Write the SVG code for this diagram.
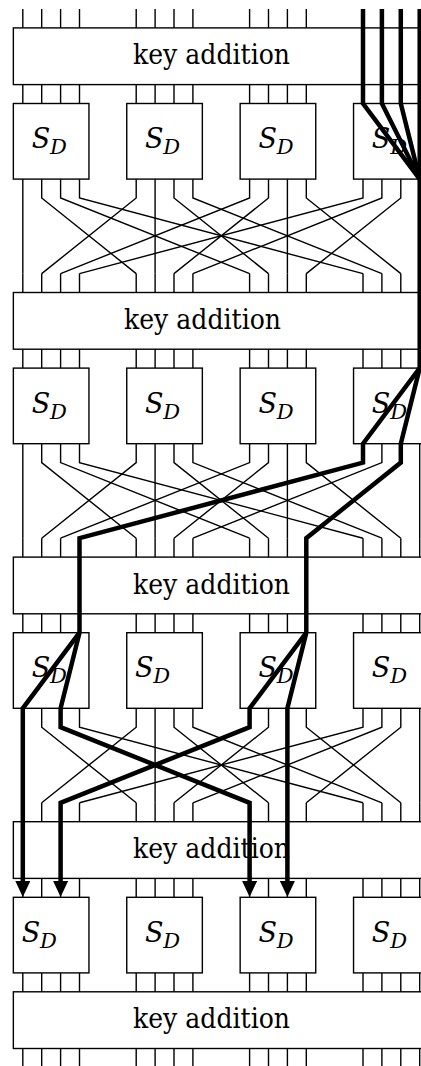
<svg xmlns="http://www.w3.org/2000/svg" xmlns:xlink="http://www.w3.org/1999/xlink" width="421" height="1066" viewBox="0 0 421 1066">
  <style>
    .w { stroke: #000; stroke-width: 1.4; fill: none; }
    .box { fill: #fff; stroke: #000; stroke-width: 1.4; }
    .ka { font-family: "DejaVu Serif", "Liberation Serif", serif; font-size: 27px; fill: #000; }
    .s { font-family: "DejaVu Serif", "Liberation Serif", serif; font-style: italic; font-size: 27px; fill: #000; }
    .d { font-size: 21px; }
    .thick { stroke: #000; stroke-width: 4.5; fill: none; stroke-linejoin: miter; }
  </style>
  <defs>
    <!-- straight wire segments of one bit column (stubs, through key additions and S-boxes) -->
    <path id="col" d="M0 9V179.1M0 273.6V443.7M0 538.2V708.3M0 802.8V1067.4"/>
    <!-- bit permutation between S-box layers: bit 4g+j goes to position 4j+g -->
    <g id="perm">
      <path d="M22.8 0V18.9L22.8 94.5"/>
      <path d="M41.7 0V18.9L136.2 94.5"/>
      <path d="M60.6 0V18.9L249.6 94.5"/>
      <path d="M79.5 0V18.9L363.0 94.5"/>
      <path d="M136.2 0V18.9L41.7 94.5"/>
      <path d="M155.1 0V18.9L155.1 94.5"/>
      <path d="M174.0 0V18.9L268.5 94.5"/>
      <path d="M192.9 0V18.9L381.9 94.5"/>
      <path d="M249.6 0V18.9L60.6 94.5"/>
      <path d="M268.5 0V18.9L174.0 94.5"/>
      <path d="M287.4 0V18.9L287.4 94.5"/>
      <path d="M306.3 0V18.9L400.8 94.5"/>
      <path d="M363.0 0V18.9L79.5 94.5"/>
      <path d="M381.9 0V18.9L192.9 94.5"/>
      <path d="M400.8 0V18.9L306.3 94.5"/>
      <path d="M419.7 0V18.9L419.7 94.5"/>
    </g>
    <marker id="arrow" markerUnits="userSpaceOnUse" viewBox="0 0 16 15" markerWidth="16" markerHeight="15" refX="0.5" refY="7.5" orient="auto">
      <path d="M0 0L16 7.5L0 15z" fill="#000"/>
    </marker>
  </defs>

  <!-- thin wires -->
  <g id="connectors" class="w">
    <use xlink:href="#col" x="22.8"/>
    <use xlink:href="#col" x="41.7"/>
    <use xlink:href="#col" x="60.6"/>
    <use xlink:href="#col" x="79.5"/>
    <use xlink:href="#col" x="136.2"/>
    <use xlink:href="#col" x="155.1"/>
    <use xlink:href="#col" x="174.0"/>
    <use xlink:href="#col" x="192.9"/>
    <use xlink:href="#col" x="249.6"/>
    <use xlink:href="#col" x="268.5"/>
    <use xlink:href="#col" x="287.4"/>
    <use xlink:href="#col" x="306.3"/>
    <use xlink:href="#col" x="363.0"/>
    <use xlink:href="#col" x="381.9"/>
    <use xlink:href="#col" x="400.8"/>
    <use xlink:href="#col" x="419.7"/>
    <use xlink:href="#perm" y="179.1"/>
    <use xlink:href="#perm" y="443.7"/>
    <use xlink:href="#perm" y="708.3"/>
  </g>

  <!-- key addition layers -->
  <g id="ka1"><rect class="box" x="13.35" y="27.9" width="416.1" height="56.7"/><text class="ka" x="133" y="64.3" textLength="157" lengthAdjust="spacingAndGlyphs">key addition</text></g>
  <g id="ka2"><rect class="box" x="13.35" y="292.5" width="416.1" height="56.7"/><text class="ka" x="124" y="328.9" textLength="157" lengthAdjust="spacingAndGlyphs">key addition</text></g>
  <g id="ka3"><rect class="box" x="13.35" y="557.1" width="416.1" height="56.7"/><text class="ka" x="133" y="593.5" textLength="157" lengthAdjust="spacingAndGlyphs">key addition</text></g>
  <g id="ka4"><rect class="box" x="13.35" y="821.7" width="416.1" height="56.7"/><text class="ka" x="133" y="858.1" textLength="157" lengthAdjust="spacingAndGlyphs">key addition</text></g>
  <g id="ka5"><rect class="box" x="13.35" y="991.8" width="416.1" height="56.7"/><text class="ka" x="133" y="1028.2" textLength="157" lengthAdjust="spacingAndGlyphs">key addition</text></g>

  <!-- S-box layer 1 -->
  <g id="sb1-1"><rect class="box" x="13.35" y="103.5" width="75.6" height="75.6"/><text class="s" x="31.65" y="148">S<tspan class="d" x="49.95" y="154">D</tspan></text></g>
  <g id="sb1-2"><rect class="box" x="126.75" y="103.5" width="75.6" height="75.6"/><text class="s" x="145.05" y="148">S<tspan class="d" x="163.35" y="154">D</tspan></text></g>
  <g id="sb1-3"><rect class="box" x="240.15" y="103.5" width="75.6" height="75.6"/><text class="s" x="258.45" y="148">S<tspan class="d" x="276.75" y="154">D</tspan></text></g>
  <g id="sb1-4"><rect class="box" x="353.55" y="103.5" width="75.6" height="75.6"/><text class="s" x="371.85" y="148">S<tspan class="d" x="390.15" y="154">D</tspan></text></g>

  <!-- S-box layer 2 -->
  <g id="sb2-1"><rect class="box" x="13.35" y="368.1" width="75.6" height="75.6"/><text class="s" x="31.65" y="412.6">S<tspan class="d" x="49.95" y="418.6">D</tspan></text></g>
  <g id="sb2-2"><rect class="box" x="126.75" y="368.1" width="75.6" height="75.6"/><text class="s" x="145.05" y="412.6">S<tspan class="d" x="163.35" y="418.6">D</tspan></text></g>
  <g id="sb2-3"><rect class="box" x="240.15" y="368.1" width="75.6" height="75.6"/><text class="s" x="258.45" y="412.6">S<tspan class="d" x="276.75" y="418.6">D</tspan></text></g>
  <g id="sb2-4"><rect class="box" x="353.55" y="368.1" width="75.6" height="75.6"/><text class="s" x="371.85" y="412.6">S<tspan class="d" x="390.15" y="418.6">D</tspan></text></g>

  <!-- S-box layer 3 -->
  <g id="sb3-1"><rect class="box" x="13.35" y="632.7" width="75.6" height="75.6"/><text class="s" x="31.65" y="677.2">S<tspan class="d" x="49.95" y="683.2">D</tspan></text></g>
  <g id="sb3-2"><rect class="box" x="126.75" y="632.7" width="75.6" height="75.6"/><text class="s" x="135.05" y="677.2">S<tspan class="d" x="153.35" y="683.2">D</tspan></text></g>
  <g id="sb3-3"><rect class="box" x="240.15" y="632.7" width="75.6" height="75.6"/><text class="s" x="258.45" y="677.2">S<tspan class="d" x="276.75" y="683.2">D</tspan></text></g>
  <g id="sb3-4"><rect class="box" x="353.55" y="632.7" width="75.6" height="75.6"/><text class="s" x="371.85" y="677.2">S<tspan class="d" x="390.15" y="683.2">D</tspan></text></g>

  <!-- S-box layer 4 -->
  <g id="sb4-1"><rect class="box" x="13.35" y="897.3" width="75.6" height="75.6"/><text class="s" x="21.65" y="941.8">S<tspan class="d" x="39.95" y="947.8">D</tspan></text></g>
  <g id="sb4-2"><rect class="box" x="126.75" y="897.3" width="75.6" height="75.6"/><text class="s" x="145.05" y="941.8">S<tspan class="d" x="163.35" y="947.8">D</tspan></text></g>
  <g id="sb4-3"><rect class="box" x="240.15" y="897.3" width="75.6" height="75.6"/><text class="s" x="258.45" y="941.8">S<tspan class="d" x="276.75" y="947.8">D</tspan></text></g>
  <g id="sb4-4"><rect class="box" x="353.55" y="897.3" width="75.6" height="75.6"/><text class="s" x="371.85" y="941.8">S<tspan class="d" x="390.15" y="947.8">D</tspan></text></g>

  <!-- highlighted trail -->
  <g id="trail" class="thick">
    <path d="M363.0 9V103.5L419.7 179.1"/>
    <path d="M381.9 9V103.5L419.7 179.1"/>
    <path d="M400.8 9V103.5L419.7 179.1"/>
    <path d="M419.7 9V368.1"/>
    <path d="M419.7 368.1L363.0 443.7V462.6L79.5 538.2V632.7"/>
    <path d="M419.7 368.1L400.8 443.7V462.6L306.3 538.2V632.7"/>
    <path d="M79.5 632.7L22.8 708.3V881.5" marker-end="url(#arrow)"/>
    <path d="M79.5 632.7L60.6 708.3V727.2L249.6 802.8V881.5" marker-end="url(#arrow)"/>
    <path d="M306.3 632.7L249.6 708.3V727.2L60.6 802.8V881.5" marker-end="url(#arrow)"/>
    <path d="M306.3 632.7L287.4 708.3V881.5" marker-end="url(#arrow)"/>
  </g>
</svg>
